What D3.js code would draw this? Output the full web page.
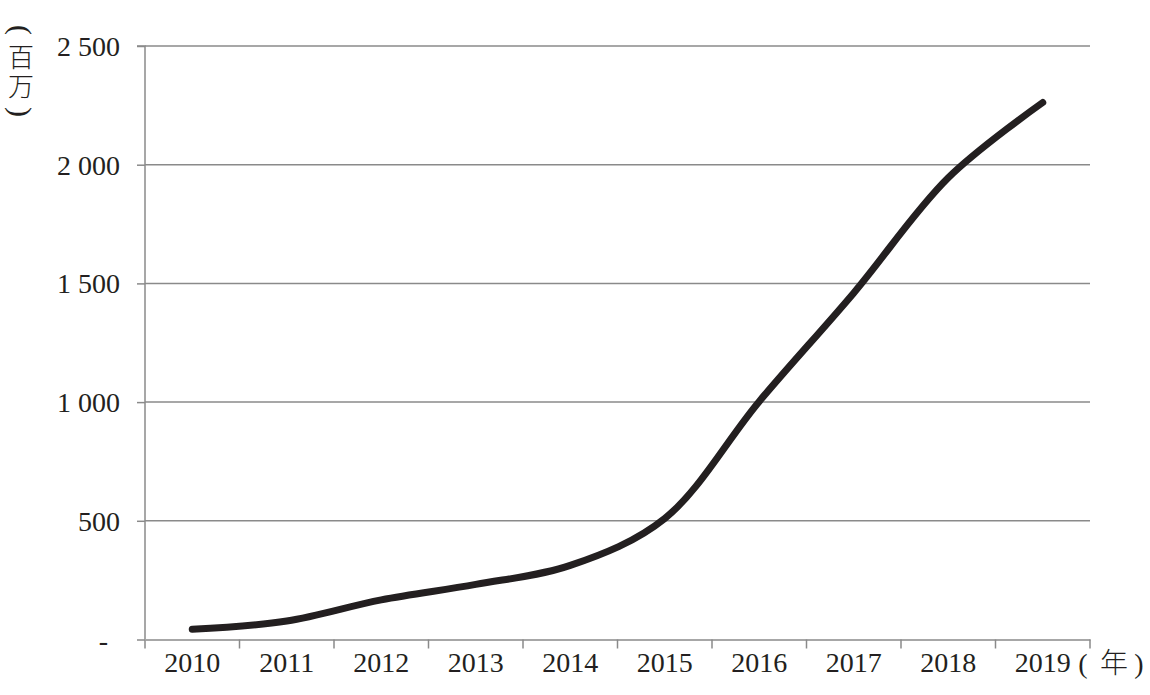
<!DOCTYPE html>
<html>
<head>
<meta charset="utf-8">
<script src="https://cdn.jsdelivr.net/npm/d3@7"></script>
<style>
  html, body { margin: 0; padding: 0; background: #fff; }
  svg { display: block; }
</style>
</head>
<body>
<svg id="chart" width="1150" height="695"></svg>
<script>
const years = ["2010","2011","2012","2013","2014","2015","2016","2017","2018","2019"];
const values = [43, 78, 167, 232, 312, 510, 1003, 1460, 1945, 2262];
const yTicks = [0, 500, 1000, 1500, 2000, 2500];
const yUnitChars = ["(", "百", "万", ")"];
const xUnit = ["(", "年", ")"];

const W = 1150, H = 695;
const m = {left: 145, right: 1090, top: 46, bottom: 639.5};
const svg = d3.select("#chart");

const x = d3.scaleBand().domain(years).range([m.left, m.right]).paddingInner(0).paddingOuter(0);
const y = d3.scaleLinear().domain([0, 2500]).range([m.bottom, m.top]);

const gridColor = "#8a8a8a";
const serif = "'Liberation Serif', 'Times New Roman', serif";
const cjk = "'Noto Sans CJK SC', sans-serif";

// gridlines
svg.append("g").selectAll("line").data(yTicks.filter(d => d > 0)).join("line")
  .attr("x1", m.left).attr("x2", m.right)
  .attr("y1", d => y(d)).attr("y2", d => y(d))
  .attr("stroke", gridColor).attr("stroke-width", 1.5);

// y axis
const yAxis = d3.axisLeft(y).tickValues(yTicks).tickSize(8).tickPadding(17)
  .tickFormat(d => d === 0 ? "-" : d3.format(",")(d).replace(/,/g, " "));
const gy = svg.append("g").attr("transform", `translate(${m.left},0)`).call(yAxis);
gy.select(".domain").attr("stroke", gridColor).attr("stroke-width", 1.5).attr("d", `M-8,${m.top}H0V${m.bottom}`);
gy.selectAll(".tick line").attr("stroke", gridColor).attr("stroke-width", 1.5);
gy.selectAll(".tick text")
  .attr("font-family", serif).attr("font-size", 28).attr("fill", "#231f20")
  .attr("dy", "0.34em")
  .attr("dx", d => d === 0 ? -12 : 0);

// x axis
const xAxis = d3.axisBottom(x).tickSize(0).tickPadding(13);
const gx = svg.append("g").attr("transform", `translate(0,${m.bottom})`).call(xAxis);
gx.select(".domain").attr("stroke", gridColor).attr("stroke-width", 1.5);
gx.selectAll(".tick text").attr("font-family", serif).attr("font-size", 28).attr("fill", "#231f20");
// tick marks at band boundaries
const bounds = years.map(d => x(d)).concat([m.right]);
gx.append("g").selectAll("line").data(bounds).join("line")
  .attr("x1", d => d).attr("x2", d => d).attr("y1", 0).attr("y2", 9)
  .attr("stroke", gridColor).attr("stroke-width", 1.5);

// line
const line = d3.line()
  .x((d, i) => x(years[i]) + x.bandwidth() / 2)
  .y(d => y(d))
  .curve(d3.curveCatmullRom.alpha(0.5));
svg.append("path").datum(values)
  .attr("d", line)
  .attr("fill", "none").attr("stroke", "#231f20").attr("stroke-width", 7)
  .attr("stroke-linecap", "round").attr("stroke-linejoin", "round");

// y unit label (vertical, parens rotated)
const yUnitPos = [30, 55, 84, 112];
svg.append("g").selectAll("text").data(yUnitChars).join("text")
  .attr("transform", (d, i) => `translate(21,${yUnitPos[i]})` + (i === 0 || i === 3 ? " rotate(90)" : ""))
  .attr("text-anchor", "middle").attr("dominant-baseline", "central")
  .attr("font-family", (d, i) => (i === 0 || i === 3) ? serif : cjk)
  .attr("font-size", (d, i) => (i === 0 || i === 3) ? 30 : 26)
  .attr("font-weight", 300).attr("fill", "#231f20")
  .text(d => d);

// x unit label
const xUnitPos = [1083, 1114, 1139];
svg.append("g").selectAll("text").data(xUnit).join("text")
  .attr("x", (d, i) => xUnitPos[i]).attr("y", 673)
  .attr("text-anchor", "middle")
  .attr("font-family", (d, i) => i === 1 ? cjk : serif)
  .attr("font-size", 28)
  .attr("font-weight", 300)
  .attr("fill", "#231f20")
  .text(d => d);
</script>
</body>
</html>
